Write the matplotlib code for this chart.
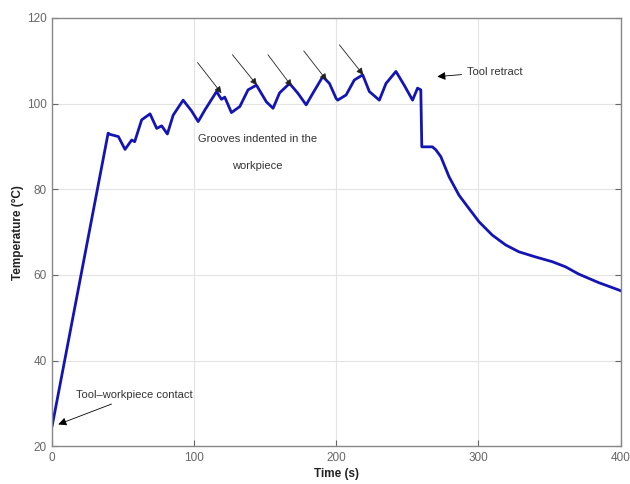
import matplotlib.pyplot as plt

plt.rcParams['font.family'] = ['Liberation Sans', 'DejaVu Sans']

# temperature trace (time in s, temperature in degC)
time_s = [0, 39.3, 40.7, 46.5, 51.2, 55.9, 58, 62.9, 68.8, 73.5, 77, 81, 85.1, 92.1,
          98, 102.7, 107.4, 115.6, 119.1, 121.4, 126.1, 132, 137.8, 143.7, 150.7,
          155.4, 160, 167, 172.9, 178.7, 183.4, 190.4, 195.1, 199.8, 200.9, 206.8,
          212.6, 218.5, 223.2, 230.2, 234.9, 241.9, 247.7, 253.6, 257.1, 259.4,
          260.1, 267.6, 270, 273.5, 279.3, 286.3, 293.3, 300.4, 309.7, 319.1, 328.4,
          340.1, 351.8, 361.2, 370.5, 384.6, 398.6, 400]
temp_c = [24.9, 93.1, 92.8, 92.3, 89.3, 91.5, 91.1, 96.2, 97.6, 94.2, 94.8, 92.9, 97.3,
          100.8, 98.3, 95.8, 98.5, 102.8, 101, 101.5, 97.9, 99.3, 103.2, 104.3, 100.4,
          98.9, 102.5, 104.7, 102.4, 99.7, 102.4, 106.3, 104.7, 101.2, 100.8, 102,
          105.5, 106.7, 102.8, 100.8, 104.7, 107.5, 104.3, 100.8, 103.6, 103.2,
          89.9, 89.9, 89.2, 87.6, 82.9, 78.6, 75.5, 72.4, 69.3, 67, 65.4,
          64.2, 63.1, 61.9, 60.2, 58.2, 56.5, 56.3]

# groove arrows: (tail t, tail T, head t, head T)
groove_tail_t = [102.2, 126.8, 151.8, 177.0, 202.1]
groove_tail_T = [109.6, 111.4, 111.4, 112.3, 113.7]
groove_head_t = [119.1, 144.1, 168.6, 193.2, 218.9]
groove_head_T = [102.4, 104.3, 104.0, 105.4, 106.7]

fig, ax = plt.subplots(figsize=(6.3, 4.84), dpi=100)
fig.subplots_adjust(left=0.083, right=0.985, top=0.963, bottom=0.078)

ax.plot(time_s, temp_c, color='#1414b4', linewidth=2.0)

ax.set_xlim(0, 400)
ax.set_ylim(20, 120)
ax.set_xticks([0, 100, 200, 300, 400])
ax.set_yticks([20, 40, 60, 80, 100, 120])
ax.grid(True, color='#e3e3e3', linewidth=0.8)
ax.set_axisbelow(True)
ax.tick_params(direction='in', length=4, colors='#666666', labelsize=8.5,
               top=False, right=True, width=0.8, pad=4)
for s in ax.spines.values():
    s.set_color('#888888')
    s.set_linewidth(1.0)

ax.set_xlabel('Time (s)', fontsize=8.5, fontweight='bold', color='#222222', labelpad=3)
ax.set_ylabel('Temperature (°C)', fontsize=8.5, fontweight='bold', color='#222222', labelpad=2)

txt_col = '#333333'
ax.annotate('Tool\u2013workpiece contact', xy=(4.2, 25.1), xytext=(16.8, 31.9),
            fontsize=8, color=txt_col, va='center', ha='left',
            arrowprops=dict(arrowstyle='-|>', color='black', lw=0.6,
                            mutation_scale=12, shrinkA=2, shrinkB=0))
ax.annotate('Tool retract', xy=(271, 106.3), xytext=(292, 107.4),
            fontsize=8, color=txt_col, va='center', ha='left',
            arrowprops=dict(arrowstyle='-|>', color='black', lw=0.6,
                            mutation_scale=12, shrinkA=2, shrinkB=0))
ax.text(144.6, 91.7, 'Grooves indented in the', fontsize=8, color=txt_col,
        ha='center', va='center')
ax.text(144.6, 85.4, 'workpiece', fontsize=8, color=txt_col,
        ha='center', va='center')

for tt, tT, ht, hT in zip(groove_tail_t, groove_tail_T, groove_head_t, groove_head_T):
    ax.annotate('', xy=(ht, hT), xytext=(tt, tT),
                arrowprops=dict(arrowstyle='-|>', color='#222222', lw=0.6,
                                mutation_scale=10, shrinkA=0, shrinkB=0))

fig.savefig('out.png', dpi=100)
